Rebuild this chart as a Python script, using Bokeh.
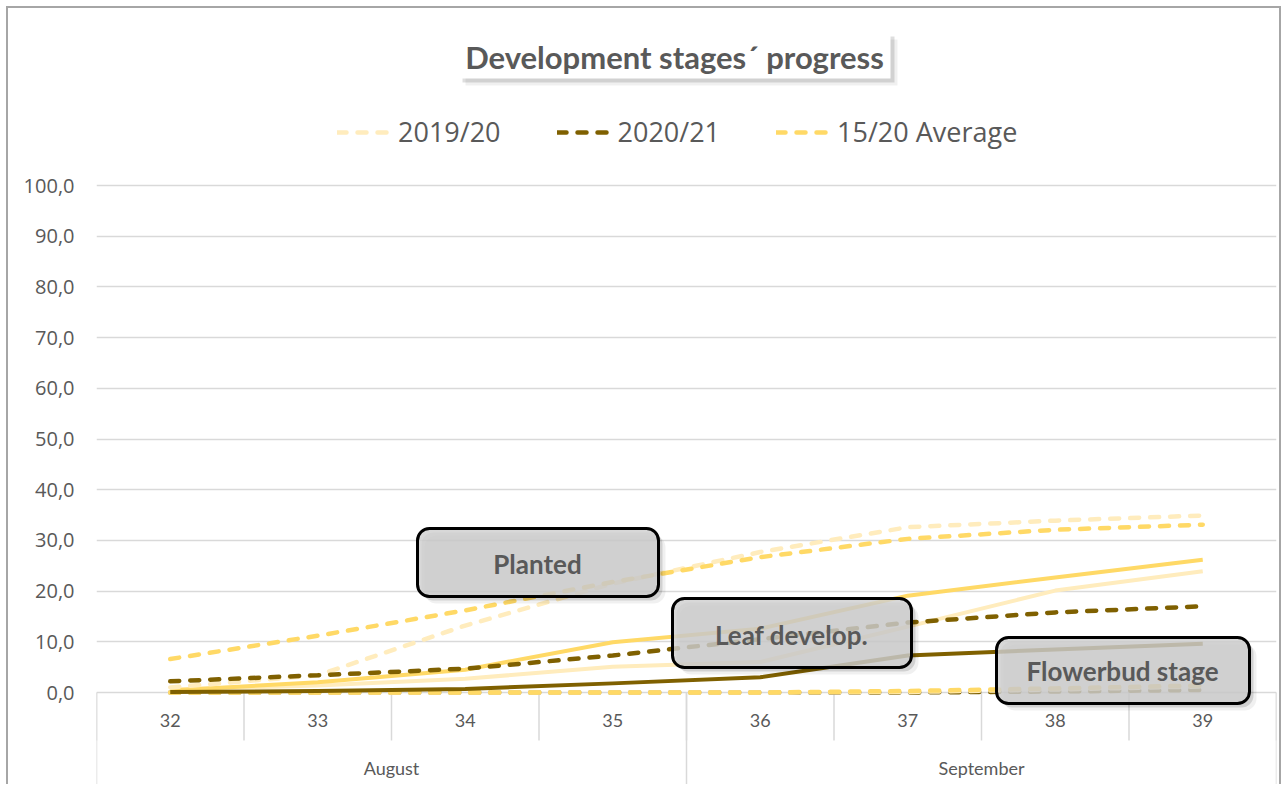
from bokeh.plotting import figure
from bokeh.models import (Range1d, FixedTicker, BoxAnnotation, Label, Legend,
                          LegendItem)
from bokeh.embed import file_html
from bokeh.resources import INLINE
from bokeh.core.properties import value

# ---------------- data ----------------
weeks = ["32", "33", "34", "35", "36", "37", "38", "39"]
months = ["August", "September"]
weeks_per_month = [4, 4]
seasons = ["2019/20", "2020/21", "15/20 Average"]
stages = ["Planted", "Leaf develop.", "Flowerbud stage"]

planted_1920 = [1.0, 3.4, 13.2, 21.5, 27.7, 32.6, 33.9, 34.9]
planted_2021 = [2.2, 3.4, 4.7, 7.3, 10.5, 13.8, 15.8, 17.0]
planted_avg = [6.6, 11.2, 16.2, 21.8, 26.7, 30.3, 32.1, 33.1]

leaf_1920 = [0.6, 1.4, 2.7, 5.1, 6.0, 13.0, 20.1, 23.9]
leaf_2021 = [0.1, 0.3, 0.7, 1.8, 3.0, 7.3, 8.5, 9.6]
leaf_avg = [0.4, 2.0, 4.5, 9.9, 12.6, 19.1, 22.7, 26.2]

flower_1920 = [0.0, 0.0, 0.0, 0.0, 0.0, 0.1, 0.6, 1.2]
flower_2021 = [0.0, 0.0, 0.0, 0.0, 0.0, 0.0, 0.2, 0.5]
flower_avg = [0.0, 0.0, 0.0, 0.0, 0.0, 0.3, 0.8, 1.4]

y_ticks = [0, 10, 20, 30, 40, 50, 60, 70, 80, 90, 100]
y_tick_labels = ["0,0", "10,0", "20,0", "30,0", "40,0", "50,0", "60,0",
                 "70,0", "80,0", "90,0", "100,0"]

# ---------------- styling ----------------
COL = {"2019/20": "#FFECBD", "2020/21": "#7F6000", "15/20 Average": "#FFD966"}
TXT = "#595959"
GRID = "#D9D9D9"

# page geometry (canvas origin on page at OX, OY)
OX, OY = 8, 8
W, H = 1275, 778
FL, FR, FT, FB = 96, 1276, OY, OY + H   # frame on page
Y0PX, PXU = 692, 5.07                   # y=0 pixel and px per unit
n = len(weeks)
CW = (FR - FL) / n


def dx(px):
    return (px - FL) / CW - 0.5


def dy(py):
    return (Y0PX - py) / PXU


p = figure(width=W, height=H, output_backend="svg", toolbar_location=None,
           x_range=Range1d(-0.5, n - 0.5),
           y_range=Range1d(dy(FB), dy(FT)),
           x_axis_location=None,
           min_border_left=FL - OX, min_border_right=OX + W - FR,
           min_border_top=0, min_border_bottom=0)
p.styles = {"border-top": "2px solid #A6A6A6",
            "border-left": "2px solid #A6A6A6",
            "border-right": "2px solid #A6A6A6",
            "margin-left": "6px", "margin-top": "6px"}
p.outline_line_color = None
p.background_fill_color = "white"
p.border_fill_color = "white"
p.xgrid.visible = False
p.ygrid.ticker = FixedTicker(ticks=y_ticks)
p.ygrid.grid_line_color = GRID
p.ygrid.grid_line_width = 1.5

ax = p.yaxis[0]
ax.ticker = FixedTicker(ticks=y_ticks)
ax.major_label_overrides = dict(zip(y_ticks, y_tick_labels))
ax.axis_line_color = None
ax.major_tick_line_color = None
ax.minor_tick_line_color = None
ax.major_label_standoff = 16
ax.major_label_text_font = "Open Sans"
ax.major_label_text_font_size = "20px"
ax.major_label_text_color = TXT

xs = list(range(n))

# ---------------- category axis (drawn from categories) ----------------
bounds = [i - 0.5 for i in range(n + 1)]
p.segment(x0=bounds, y0=[0] * len(bounds), x1=bounds,
          y1=[dy(740)] * len(bounds), line_color=GRID, line_width=1.5)
mb = [-0.5]
for k in weeks_per_month:
    mb.append(mb[-1] + k)
p.segment(x0=mb, y0=[0] * len(mb), x1=mb, y1=[dy(FB)] * len(mb),
          line_color=GRID, line_width=1.5)
p.text(x=xs, y=[dy(720)] * n, text=weeks, text_align="center",
       text_baseline="middle", text_font=value("Lato"),
       text_font_size="18px", text_color=TXT)
mc = [(mb[i] + mb[i + 1]) / 2 for i in range(len(months))]
p.text(x=mc, y=[dy(767)] * len(months), text=months, text_align="center",
       text_baseline="middle", text_font=value("Lato"),
       text_font_size="18px", text_color=TXT)

# ---------------- series ----------------
DASH = "9 11"
series = {
    "2019/20": (planted_1920, leaf_1920, flower_1920),
    "15/20 Average": (planted_avg, leaf_avg, flower_avg),
    "2020/21": (planted_2021, leaf_2021, flower_2021),
}
order = ["2020/21", "2019/20", "15/20 Average"]
# flowerbud stage (bottom layer)
for s in order:
    p.line(xs, series[s][2], line_color=COL[s], line_width=4.5,
           line_dash=DASH, line_cap="round")
# leaf development (solid)
for s in ["2019/20", "15/20 Average", "2020/21"]:
    p.line(xs, series[s][1], line_color=COL[s], line_width=4,
           line_join="round")
# planted (dashed)
legend_refs = {}
for s in ["2019/20", "15/20 Average", "2020/21"]:
    legend_refs[s] = p.line(xs, series[s][0], line_color=COL[s],
                            line_width=4.5, line_dash=DASH, line_cap="round")

legend = Legend(items=[LegendItem(label=s, renderers=[legend_refs[s]])
                       for s in seasons],
                orientation="horizontal", location=(337 - FL, FB - 150),
                margin=0, padding=0, spacing=56, label_standoff=7,
                glyph_width=54, glyph_height=20,
                label_text_font="Open Sans", label_text_font_size="27px",
                label_text_color=TXT, border_line_color=None,
                background_fill_alpha=0)
p.add_layout(legend, "center")


# ---------------- title & stage boxes ----------------
def box(x0, y0, x1, y1, fill, alpha, border, radius, shadow=True):
    if shadow:
        for off, a in ((7, 0.06), (4, 0.13)):
            p.add_layout(BoxAnnotation(left=dx(x0 + off), right=dx(x1 + off),
                                       top=dy(y0 + off), bottom=dy(y1 + off),
                                       fill_color="#000000", fill_alpha=a,
                                       line_color=None, border_radius=radius))
    p.add_layout(BoxAnnotation(left=dx(x0), right=dx(x1), top=dy(y0),
                               bottom=dy(y1), fill_color=fill, fill_alpha=alpha,
                               line_color=border if border else None,
                               line_alpha=1.0, line_width=3,
                               border_radius=radius))


def label(cx, cy, text, size):
    p.add_layout(Label(x=dx(cx), y=dy(cy), text=text, text_align="center",
                       text_baseline="middle", text_font="Lato",
                       text_font_style="bold", text_font_size=size,
                       text_color=TXT))


box(458, 32, 890, 78, "white", 1.0, None, 0)
label(674, 56, "Development stages´ progress", "31px")

box(417, 528, 658, 596, "#D0D0D0", 0.82, "black", 12)
label(537, 563, stages[0], "26px")
box(672, 598, 911, 667, "#D0D0D0", 0.82, "black", 12)
label(791, 634, stages[1], "26px")
box(996, 637, 1249, 703, "#D0D0D0", 0.82, "black", 12)
label(1122, 670, stages[2], "26px")

open("out.html", "w").write(file_html(p, INLINE))
